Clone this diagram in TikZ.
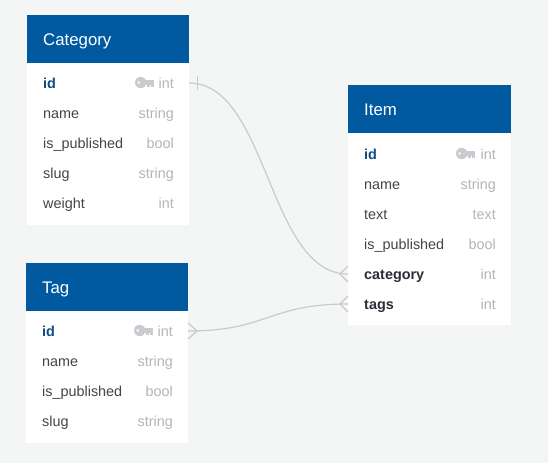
\documentclass[tikz,border=0pt]{standalone}
\usepackage{fontspec}
\setmainfont{Liberation Sans}
\definecolor{bgc}{HTML}{F4F6F6}
\definecolor{headc}{HTML}{015AA0}
\definecolor{idc}{HTML}{0F4C81}
\definecolor{txtc}{HTML}{444444}
\definecolor{boldc}{HTML}{2A2E36}
\definecolor{typec}{HTML}{B2B6BA}
\definecolor{keyc}{HTML}{C8CCD0}
\definecolor{linec}{HTML}{C8CBCB}
\tikzset{
  x=1pt,y=1pt,
  headtext/.style={text=white,font=\fontsize{16.8}{18}\selectfont,anchor=base west,inner sep=0},
  fieldname/.style={text=txtc,font=\fontsize{14.4}{16}\selectfont,anchor=base west,inner sep=0},
  keyname/.style={text=idc,font=\fontsize{14.4}{16}\selectfont\bfseries,anchor=base west,inner sep=0},
  fkname/.style={text=boldc,font=\fontsize{14.4}{16}\selectfont\bfseries,anchor=base west,inner sep=0},
  typename/.style={text=typec,font=\fontsize{14.4}{16}\selectfont,anchor=base east,inner sep=0},
  rel/.style={draw=linec,line width=1.2pt},
}
\newcommand{\tablebox}[6]{%
  \path[fill=white] (#2,463-#4) rectangle (#3,463-#5);
  \path[fill=headc] (#2,463-#4) rectangle (#3,463-#4-48);
  \node[headtext] (#1head) at (#2+16,463-#4-31) {#6};
}
\newcommand{\rowline}[7]{%
  \node[#5] (#1n) at (#2+16,463-#4) {#6};
  \node[typename] (#1t) at (#3-15,463-#4) {#7};
}
\newcommand{\keyicon}[2]{%
  \begin{scope}[shift={(#1,463-#2)}]
    \fill[keyc,even odd rule] (5.7,0) circle (5.7) (3.8,0) circle (1.6);
    \fill[keyc] (10,-2.2) rectangle (18.5,2.4);
    \fill[keyc] (12.2,-2.2) rectangle (14.8,-5);
    \fill[keyc] (15.8,-2.2) rectangle (18.5,-4.2);
  \end{scope}
}
\begin{document}
\begin{tikzpicture}
\useasboundingbox (0,0) rectangle (548,463);
\fill[bgc] (0,0) rectangle (548,463);

% Category
\tablebox{cat}{27}{189}{15}{225}{Category}
\rowline{catid}{27}{189}{89}{keyname}{id}{int}
\rowline{catname}{27}{189}{119}{fieldname}{name}{string}
\rowline{catpub}{27}{189}{149}{fieldname}{is\_published}{bool}
\rowline{catslug}{27}{189}{179}{fieldname}{slug}{string}
\rowline{catweight}{27}{189}{209}{fieldname}{weight}{int}
\keyicon{135}{82.5}

% Tag
\tablebox{tag}{26}{188}{263}{443}{Tag}
\rowline{tagid}{26}{188}{336.5}{keyname}{id}{int}
\rowline{tagname}{26}{188}{366.5}{fieldname}{name}{string}
\rowline{tagpub}{26}{188}{396.5}{fieldname}{is\_published}{bool}
\rowline{tagslug}{26}{188}{426.5}{fieldname}{slug}{string}
\keyicon{134}{330.5}

% Item
\tablebox{item}{348}{511}{85}{325}{Item}
\rowline{itemid}{348}{511}{160}{keyname}{id}{int}
\rowline{itemname}{348}{511}{190}{fieldname}{name}{string}
\rowline{itemtext}{348}{511}{220}{fieldname}{text}{text}
\rowline{itempub}{348}{511}{250}{fieldname}{is\_published}{bool}
\rowline{itemcat}{348}{511}{280}{fkname}{category}{int}
\rowline{itemtags}{348}{511}{310}{fkname}{tags}{int}
\keyicon{456}{153.5}

% Connector ends
\coordinate (catport) at (189,463-83);
\coordinate (tagport) at (188,463-331);
\coordinate (itemcatport) at (348,463-274);
\coordinate (itemtagsport) at (348,463-304);

% Relations
\draw[rel] (catport) .. controls (268,463-83) and (268,463-274) .. (itemcatport);
\draw[rel] (tagport) .. controls (268,463-331) and (268,463-304) .. (itemtagsport);

% Ends
\draw[rel,line width=0.8pt] ([xshift=8pt,yshift=7pt]catport) -- ([xshift=8pt,yshift=-7pt]catport);
\draw[rel] ([yshift=8pt]itemcatport) -- ([xshift=-8pt]itemcatport) -- ([yshift=-8pt]itemcatport);
\draw[rel] ([yshift=8pt]itemtagsport) -- ([xshift=-8pt]itemtagsport) -- ([yshift=-8pt]itemtagsport);
\draw[rel] ([yshift=8pt]tagport) -- ([xshift=9pt]tagport) -- ([yshift=-8pt]tagport);
\end{tikzpicture}
\end{document}
